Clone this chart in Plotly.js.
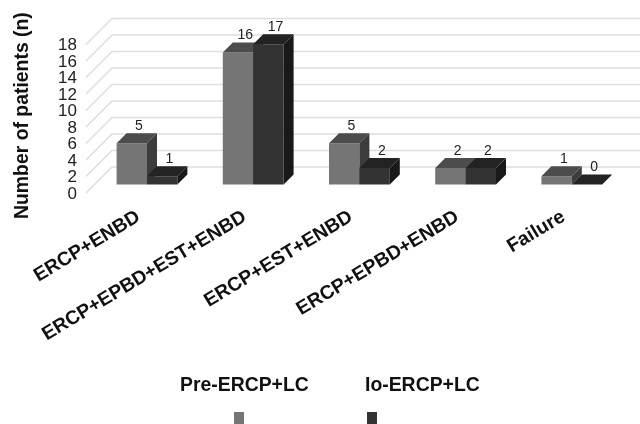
<!DOCTYPE html>
<html>
<head>
<meta charset="utf-8">
<script src="https://cdn.plot.ly/plotly-3.0.1.min.js"></script>
<style>
html,body{margin:0;padding:0;background:#fff;overflow:hidden}
#chart{width:640px;height:424px;filter:blur(0.55px)}
</style>
</head>
<body>
<div id="chart"></div>
<script>
const categories = ['ERCP+ENBD','ERCP+EPBD+EST+ENBD','ERCP+EST+ENBD','ERCP+EPBD+ENBD','Failure'];
const preValues = [5,16,5,2,1];
const ioValues = [1,17,2,2,0];
const seriesNames = ['Pre-ERCP+LC','Io-ERCP+LC'];
const yTicks = [0,2,4,6,8,10,12,14,16,18];

const W = 640, H = 424, plotH = 201;
const pxX = 106.2, pxY = 8.25, x0 = 147, y0 = 184.5;
const barW = 30.4/pxX, depthX = 10/pxX, depthY = 10/pxY;
const labelShift = -0.1;
const xRange = [-x0/pxX, (W-x0)/pxX];
const yRange = [(y0-plotH)/pxY, y0/pxY];
const y3Range = [(193-plotH)/pxY, 193/pxY];
const wallFrontX = (86-x0)/pxX, wallBackX = (112-x0)/pxX;
const wallFrontY = (y0-193)/pxY, wallBackY = (y0-167)/pxY;
const idx = categories.map((_,i)=>i);

const GRID = '#dedede';
const styles = [
  {front:'#757575', top:'#4c4c4c', side:'#3c3c3c', off:-barW},
  {front:'#333333', top:'#232323', side:'#191919', off:0}
];

function poly(xs, ys, color, xa, ya){
  return {type:'scatter', mode:'lines', x:xs, y:ys, fill:'toself', fillcolor:color,
    line:{width:0,color:color}, hoverinfo:'skip', showlegend:false, xaxis:xa, yaxis:ya};
}
function series(values, st, name, xa, ya){
  const out = [{type:'bar', name:name, x:idx, y:values, width:barW, offset:st.off,
    marker:{color:st.front, line:{width:0}}, showlegend:false, xaxis:xa, yaxis:ya}];
  const tx=[],ty=[],sx=[],sy=[];
  values.forEach((v,i)=>{
    const l=i+st.off, r=l+barW;
    tx.push(l,r,r+depthX,l+depthX,l,null); ty.push(v,v,v+depthY,v+depthY,v,null);
    sx.push(r,r+depthX,r+depthX,r,r,null); sy.push(0,depthY,v+depthY,v,0,null);
  });
  out.push(poly(sx,sy,st.side,xa,ya));
  out.push(poly(tx,ty,st.top,xa,ya));
  out.push({type:'scatter', mode:'text', x:idx.map(i=>i+st.off+barW/2+depthX*0.72),
    y:values.map(v=>v+depthY), text:values.map(String), textposition:'top center',
    textfont:{family:'"Liberation Sans",Arial,sans-serif',size:14,color:'#222'},
    hoverinfo:'skip', showlegend:false, cliponaxis:false, xaxis:xa, yaxis:ya});
  return out;
}

const gridShapes = yTicks.map(v=>({type:'path',xref:'x',yref:'y',layer:'below',
  path:'M'+wallFrontX+','+(v+wallFrontY)+' L'+wallBackX+','+(v+wallBackY)+' L'+xRange[1]+','+(v+wallBackY),
  line:{color:GRID,width:1.5}}));
const tickCarrier = {type:'scatter',mode:'markers',x:[xRange[0]],y:[0],marker:{opacity:0},hoverinfo:'skip',showlegend:false,xaxis:'x',yaxis:'y3'};

const traces = [tickCarrier]
  .concat(series(preValues,styles[0],seriesNames[0],'x','y'))
  .concat(series(ioValues,styles[1],seriesNames[1],'x2','y2'));

const bold = {family:'"Liberation Sans",Arial,sans-serif',size:19.4,color:'#111'};
const pY = py => 1-py/H, pX = px => px/W;
const note = (px,py,text,extra) => Object.assign({xref:'paper',yref:'paper',x:pX(px),y:pY(py),xanchor:'center',yanchor:'middle',
  text:'<b>'+text+'</b>',showarrow:false,font:bold},extra||{});
const layout = {
  width:W,height:H,margin:{l:0,r:0,t:0,b:0,pad:0},paper_bgcolor:'#fff',plot_bgcolor:'rgba(0,0,0,0)',
  barmode:'overlay',showlegend:false,
  xaxis:{domain:[0,1],range:xRange,anchor:'y',tickmode:'array',tickvals:idx.map(i=>i+labelShift),ticktext:categories,tickangle:-31,
    showgrid:false,zeroline:false,showline:false,ticks:'',
    tickfont:{family:'"Liberation Sans",Arial,sans-serif',size:19.4,color:'#111',weight:'bold'}},
  yaxis:{domain:[1-plotH/H,1],range:yRange,anchor:'x',visible:false},
  xaxis2:{domain:[0,1],range:xRange,overlaying:'x',anchor:'y2',visible:false},
  yaxis2:{domain:[1-plotH/H,1],range:yRange,overlaying:'y',anchor:'x2',visible:false},
  yaxis3:{domain:[1-plotH/H,1],range:y3Range,overlaying:'y',anchor:'free',position:pX(77),side:'left',
    tickmode:'array',tickvals:yTicks,ticktext:yTicks.map(String),showgrid:false,zeroline:false,showline:false,ticks:'',
    tickfont:{family:'"Liberation Sans",Arial,sans-serif',size:17,color:'#222'}},
  annotations:[
    note(21,116,'Number of patients (n)',{textangle:-90}),
    note(244.5,384,seriesNames[0]),
    note(422,384,seriesNames[1])
  ],
  shapes:gridShapes.concat([
    {type:'rect',xref:'paper',yref:'paper',x0:pX(234),x1:pX(244),y0:pY(424),y1:pY(412),fillcolor:styles[0].front,line:{width:0}},
    {type:'rect',xref:'paper',yref:'paper',x0:pX(367),x1:pX(377),y0:pY(424),y1:pY(412),fillcolor:styles[1].front,line:{width:0}}
  ])
};
Plotly.newPlot('chart',traces,layout,{displayModeBar:false,staticPlot:true});
</script>
</body>
</html>
